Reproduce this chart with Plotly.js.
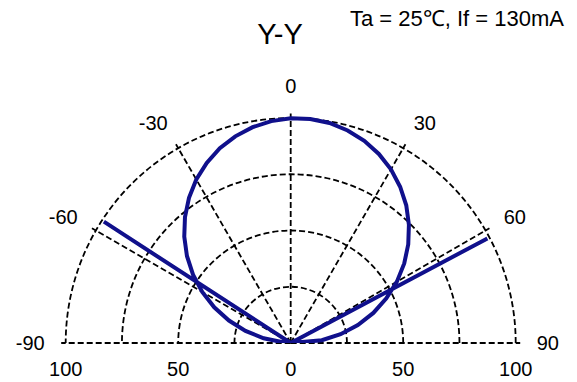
<!DOCTYPE html>
<html>
<head>
<meta charset="utf-8">
<script src="https://cdn.plot.ly/plotly-3.0.1.min.js"></script>
<style>html,body{margin:0;padding:0;background:#fff;}#chart{width:577px;height:382px;}</style>
</head>
<body>
<div id="chart"></div>
<script>
// Data
var curveTheta = [-90,-85,-80,-75,-70,-65,-60,-55,-50,-45,-40,-35,-30,-25,-20,-15,-10,-5,0,5,10,15,20,25,30,35,40,45,50,55,60,65,70,75,80,85,90];
var curveR     = [0,3.5,12.2,20.8,29.2,37.5,45.4,53.0,60.2,66.9,73.1,78.8,83.9,88.3,92.1,95.1,97.4,99.0,99.9,99.9,99.3,97.8,95.6,92.7,89.1,84.8,79.9,74.3,68.2,61.6,54.5,46.9,39.1,30.9,22.5,13.9,0];
var spikeTheta = [-57, 62];
var spikeR     = [99, 99];
var angleTicks  = [-90,-60,-30,0,30,60,90];
var angleLabels = ['-90','-60','-30','0','30','60','90'];
var radialTicks = [25,50,75,100];
var bottomTickVals = [-100,-50,0,50,100];
var bottomTickText = ['100','50','0','50','100'];
var titleText = 'Y-Y';
var conditionText = 'Ta = 25\u2103, If = 130mA';

var W = 577, H = 382;
var rMax = 102;
var cx = 290.7, cy = 343, R = 225 * rMax / 100;
var dx0 = (cx - R) / W, dx1 = (cx + R) / W;
var dy0 = (H - cy) / H, dy1 = (H - cy + R) / H;
var xHalf = rMax;

var font = 'Liberation Sans, Arial, sans-serif';
var gridDash = '6px,3px';
var blue = '#10108c';

var thetaAll = [spikeTheta[0]].concat(curveTheta, [spikeTheta[1]]);
var rAll = [spikeR[0]].concat(curveR, [spikeR[1]]);

var traces = [
  {
    type: 'scatterpolar',
    theta: thetaAll,
    r: rAll,
    mode: 'lines',
    line: {color: blue, width: 4},
    hoverinfo: 'skip',
    showlegend: false
  },
  {
    type: 'scatter',
    x: [], y: [],
    xaxis: 'x', yaxis: 'y',
    hoverinfo: 'skip',
    showlegend: false
  }
];

var layout = {
  width: W, height: H,
  margin: {l: 0, r: 0, t: 0, b: 0},
  paper_bgcolor: '#fff',
  plot_bgcolor: 'rgba(0,0,0,0)',
  font: {family: font, color: '#000', size: 20},
  showlegend: false,
  title: {
    text: titleText,
    font: {family: font, size: 29, color: '#000'},
    x: 280 / W, xanchor: 'center', xref: 'paper',
    y: 1 - 33.5 / H, yanchor: 'middle', yref: 'container'
  },
  polar: {
    domain: {x: [dx0, dx1], y: [dy0, dy1]},
    sector: [0, 180],
    bgcolor: 'rgba(0,0,0,0)',
    angularaxis: {
      rotation: 90,
      direction: 'clockwise',
      thetaunit: 'degrees',
      tickmode: 'array',
      tickvals: angleTicks,
      ticktext: angleLabels,
      ticks: 'outside',
      ticklen: 12,
      tickcolor: 'rgba(0,0,0,0)',
      showline: false,
      showgrid: true,
      gridcolor: '#000',
      gridwidth: 1.8,
      griddash: gridDash,
      tickfont: {family: font, size: 20, color: '#000'}
    },
    radialaxis: {
      range: [0, rMax],
      tickmode: 'array',
      tickvals: radialTicks,
      showticklabels: false,
      ticks: '',
      showline: false,
      showgrid: true,
      gridcolor: '#000',
      gridwidth: 1.8,
      griddash: gridDash
    }
  },
  xaxis: {
    domain: [dx0, dx1],
    range: [-xHalf, xHalf],
    anchor: 'y',
    fixedrange: true,
    tickmode: 'array',
    tickvals: bottomTickVals,
    ticktext: bottomTickText,
    ticks: 'outside',
    ticklen: 8,
    tickcolor: 'rgba(0,0,0,0)',
    showline: false,
    showgrid: false,
    zeroline: false,
    tickfont: {family: font, size: 20, color: '#000'}
  },
  yaxis: {
    domain: [dy0, dy1],
    range: [0, 100],
    visible: false,
    fixedrange: true
  },
  annotations: [
    {
      text: conditionText,
      xref: 'paper', yref: 'paper',
      x: 457 / W, y: 1 - 18.5 / H,
      xanchor: 'center', yanchor: 'middle',
      showarrow: false,
      font: {family: font, size: 22, color: '#000'}
    }
  ]
};

Plotly.newPlot('chart', traces, layout, {displayModeBar: false, staticPlot: true});
</script>
</body>
</html>
